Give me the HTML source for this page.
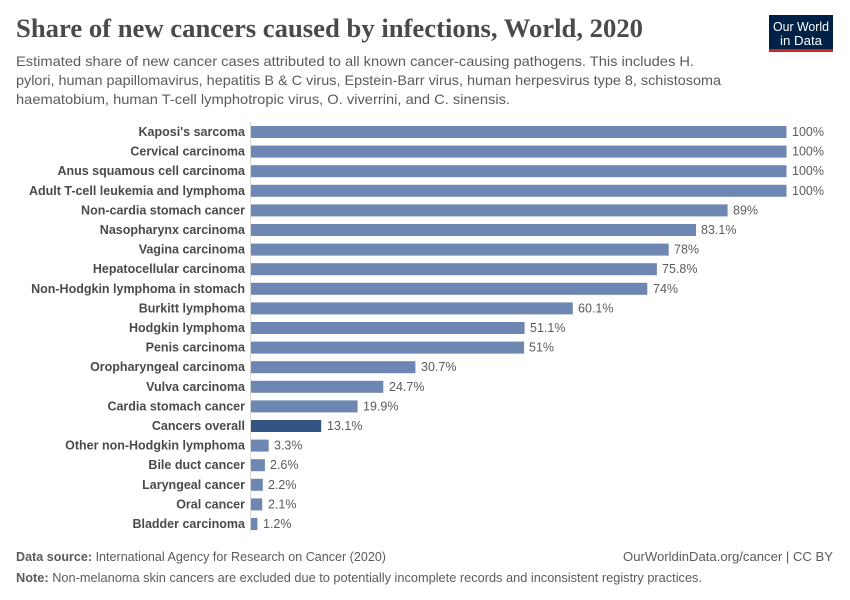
<!DOCTYPE html>
<html>
<head>
<meta charset="utf-8">
<style>
html,body{margin:0;padding:0;background:#fff;}
svg{display:block;}
</style>
</head>
<body>
<svg width="850" height="600" viewBox="0 0 850 600" xmlns="http://www.w3.org/2000/svg">
<rect width="850" height="600" fill="#fff"/>
<!-- Title -->
<text x="16" y="37" font-family="Liberation Serif, serif" font-size="26" font-weight="bold" fill="#4a4a4a" textLength="627" lengthAdjust="spacingAndGlyphs">Share of new cancers caused by infections, World, 2020</text>
<!-- Subtitle -->
<g font-family="Liberation Sans, sans-serif" font-size="14" fill="#5b5b5b">
<text x="16" y="66" textLength="678" lengthAdjust="spacingAndGlyphs">Estimated share of new cancer cases attributed to all known cancer-causing pathogens. This includes H.</text>
<text x="16" y="85" textLength="705" lengthAdjust="spacingAndGlyphs">pylori, human papillomavirus, hepatitis B &amp; C virus, Epstein-Barr virus, human herpesvirus type 8, schistosoma</text>
<text x="16" y="104" textLength="494" lengthAdjust="spacingAndGlyphs">haematobium, human T-cell lymphotropic virus, O. viverrini, and C. sinensis.</text>
</g>
<!-- Logo -->
<rect x="769" y="15" width="64" height="37" fill="#002147"/>
<rect x="769" y="49" width="64" height="3" fill="#ce261e"/>
<g font-family="Liberation Sans, sans-serif" font-size="12.5" fill="#fff" text-anchor="middle">
<text x="801" y="31" textLength="56" lengthAdjust="spacingAndGlyphs">Our World</text>
<text x="801" y="45" textLength="42" lengthAdjust="spacingAndGlyphs">in Data</text>
</g>
<!-- Axis -->
<line x1="250.5" y1="121" x2="250.5" y2="532" stroke="#d8d8d8" stroke-width="1"/>
<g font-family="Liberation Sans, sans-serif" font-size="12.5">
<g font-weight="bold" fill="#4a4a4a" text-anchor="end">
<text x="245" y="136">Kaposi's sarcoma</text>
<text x="245" y="155.6">Cervical carcinoma</text>
<text x="245" y="175.2">Anus squamous cell carcinoma</text>
<text x="245" y="194.8">Adult T-cell leukemia and lymphoma</text>
<text x="245" y="214.4">Non-cardia stomach cancer</text>
<text x="245" y="234">Nasopharynx carcinoma</text>
<text x="245" y="253.6">Vagina carcinoma</text>
<text x="245" y="273.2">Hepatocellular carcinoma</text>
<text x="245" y="292.8">Non-Hodgkin lymphoma in stomach</text>
<text x="245" y="312.4">Burkitt lymphoma</text>
<text x="245" y="332">Hodgkin lymphoma</text>
<text x="245" y="351.6">Penis carcinoma</text>
<text x="245" y="371.2">Oropharyngeal carcinoma</text>
<text x="245" y="390.8">Vulva carcinoma</text>
<text x="245" y="410.4">Cardia stomach cancer</text>
<text x="245" y="430">Cancers overall</text>
<text x="245" y="449.6">Other non-Hodgkin lymphoma</text>
<text x="245" y="469.2">Bile duct cancer</text>
<text x="245" y="488.8">Laryngeal cancer</text>
<text x="245" y="508.4">Oral cancer</text>
<text x="245" y="528">Bladder carcinoma</text>
</g>
<g fill="#6d86b2">
<rect x="251" y="126" width="535.5" height="12"/>
<rect x="251" y="145.6" width="535.5" height="12"/>
<rect x="251" y="165.2" width="535.5" height="12"/>
<rect x="251" y="184.8" width="535.5" height="12"/>
<rect x="251" y="204.4" width="476.6" height="12"/>
<rect x="251" y="224" width="445" height="12"/>
<rect x="251" y="243.6" width="417.7" height="12"/>
<rect x="251" y="263.2" width="405.9" height="12"/>
<rect x="251" y="282.8" width="396.3" height="12"/>
<rect x="251" y="302.4" width="321.8" height="12"/>
<rect x="251" y="322" width="273.6" height="12"/>
<rect x="251" y="341.6" width="273.1" height="12"/>
<rect x="251" y="361.2" width="164.4" height="12"/>
<rect x="251" y="380.8" width="132.3" height="12"/>
<rect x="251" y="400.4" width="106.6" height="12"/>
<rect x="251" y="420" width="70.2" height="12" fill="#345483"/>
<rect x="251" y="439.6" width="17.7" height="12"/>
<rect x="251" y="459.2" width="13.9" height="12"/>
<rect x="251" y="478.8" width="11.8" height="12"/>
<rect x="251" y="498.4" width="11.2" height="12"/>
<rect x="251" y="518" width="6.4" height="12"/>
</g>
<g fill="#5b5b5b">
<text x="792" y="136">100%</text>
<text x="792" y="155.6">100%</text>
<text x="792" y="175.2">100%</text>
<text x="792" y="194.8">100%</text>
<text x="733" y="214.4">89%</text>
<text x="701" y="234">83.1%</text>
<text x="674" y="253.6">78%</text>
<text x="662" y="273.2">75.8%</text>
<text x="653" y="292.8">74%</text>
<text x="578" y="312.4">60.1%</text>
<text x="530" y="332">51.1%</text>
<text x="529" y="351.6">51%</text>
<text x="421" y="371.2">30.7%</text>
<text x="389" y="390.8">24.7%</text>
<text x="363" y="410.4">19.9%</text>
<text x="327" y="430">13.1%</text>
<text x="274" y="449.6">3.3%</text>
<text x="270" y="469.2">2.6%</text>
<text x="268" y="488.8">2.2%</text>
<text x="268" y="508.4">2.1%</text>
<text x="263" y="528">1.2%</text>
</g>
</g>
<!-- Footer -->
<g font-family="Liberation Sans, sans-serif" font-size="12.5" fill="#5b5b5b">
<text x="16" y="561" textLength="370" lengthAdjust="spacingAndGlyphs"><tspan font-weight="bold">Data source:</tspan> International Agency for Research on Cancer (2020)</text>
<text x="833" y="561" text-anchor="end" textLength="210" lengthAdjust="spacingAndGlyphs">OurWorldinData.org/cancer | CC BY</text>
<text x="16" y="582" textLength="686" lengthAdjust="spacingAndGlyphs"><tspan font-weight="bold">Note:</tspan> Non-melanoma skin cancers are excluded due to potentially incomplete records and inconsistent registry practices.</text>
</g>
</svg>
</body>
</html>
